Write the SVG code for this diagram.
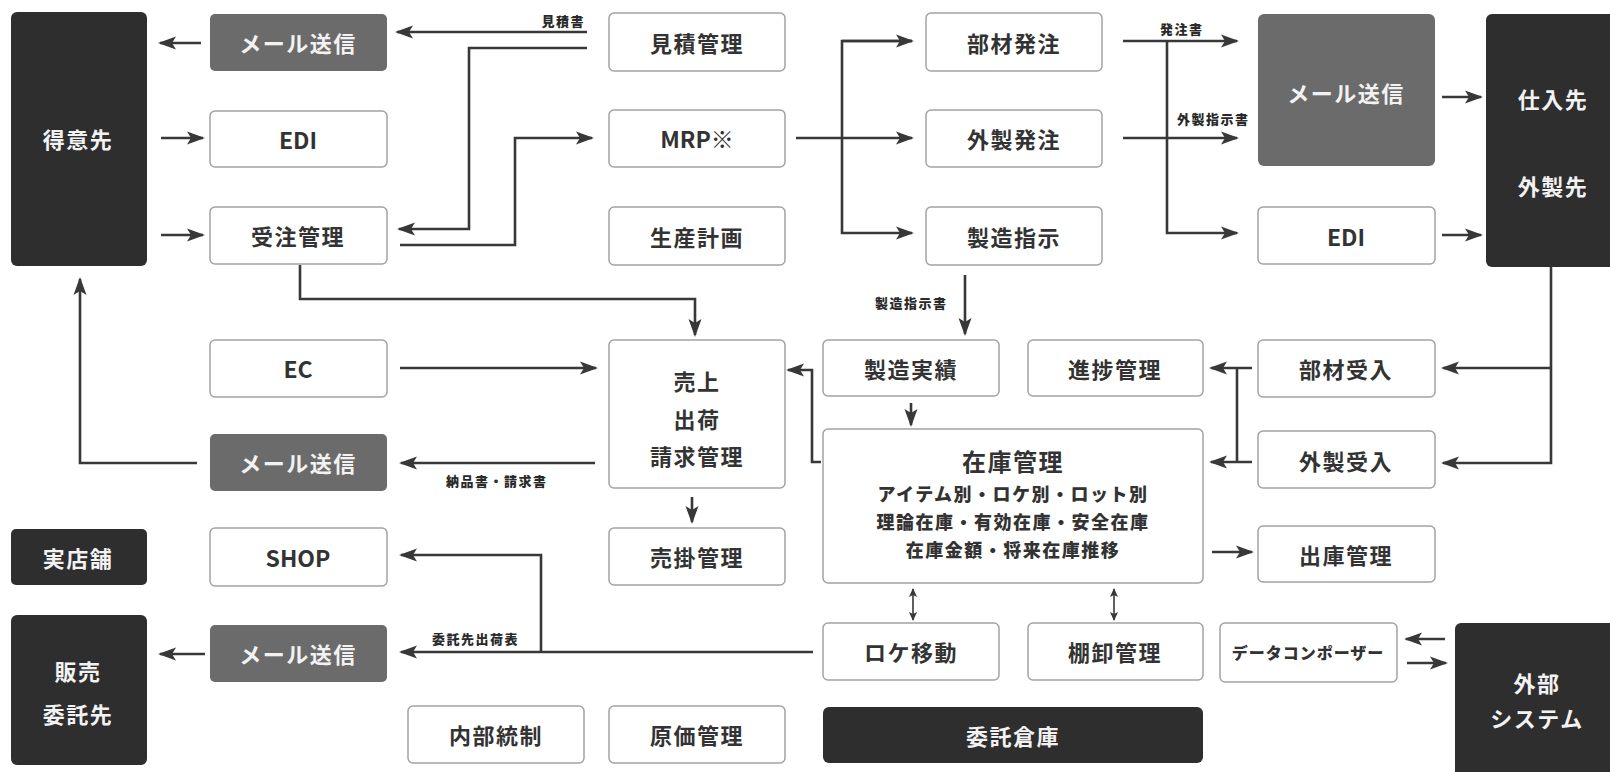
<svg xmlns="http://www.w3.org/2000/svg" width="1610" height="772" viewBox="0 0 1610 772">
<defs>
<style>
.w{fill:#fff;stroke:#a3a3a3;stroke-width:1.5}
.g{fill:#6b6b6b;stroke:none}
.d{fill:#2e2e2e;stroke:none}
text{font-family:"Noto Sans CJK JP","Noto Sans",sans-serif;font-weight:700;dominant-baseline:central;text-anchor:middle}
.t{font-size:22px;fill:#333;letter-spacing:1.5px}
.tl{font-size:23px;fill:#333}
.tw{font-size:22px;fill:#f2f2f2;letter-spacing:1.5px}
.s{font-size:18px;fill:#333;letter-spacing:1.5px;font-weight:900}
.lb{font-size:13px;fill:#2a2a2a;letter-spacing:1.5px;text-anchor:start;font-weight:900}
.c{fill:none;stroke:#383838;stroke-width:2.6}
.c2{fill:none;stroke:#383838;stroke-width:1.6}
</style>
<marker id="ah" markerUnits="userSpaceOnUse" markerWidth="18" markerHeight="14" refX="16" refY="7" orient="auto">
<path d="M0,0.5 L18,7 L0,13.5 L4,7 z" fill="#383838"/>
</marker>
<marker id="as" markerUnits="userSpaceOnUse" markerWidth="9" markerHeight="8" refX="8" refY="4" orient="auto-start-reverse">
<path d="M0,0 L9,4 L0,8 L2,4 z" fill="#383838"/>
</marker>
</defs>
<rect width="1610" height="772" fill="#fff"/>

<g id="connectors">
<path class="c" d="M587,32 H397" marker-end="url(#ah)"/>
<path class="c" d="M587,48 H469 V229 H399" marker-end="url(#ah)"/>
<path class="c" d="M400,245 H515 V138 H592" marker-end="url(#ah)"/>
<path class="c" d="M201,43 H160" marker-end="url(#ah)"/>
<path class="c" d="M161,138 H203" marker-end="url(#ah)"/>
<path class="c" d="M161,235 H203" marker-end="url(#ah)"/>
<path class="c" d="M796,138 H912" marker-end="url(#ah)"/>
<path class="c" d="M912,41 H842 V233 H912" marker-end="url(#ah)"/>
<path class="c" d="M842,41 H912" marker-end="url(#ah)"/>
<path class="c" d="M1123,41 H1237" marker-end="url(#ah)"/>
<path class="c" d="M1167,41 V233 H1237" marker-end="url(#ah)"/>
<path class="c" d="M1123,138 H1237" marker-end="url(#ah)"/>
<path class="c" d="M1442,97 H1481" marker-end="url(#ah)"/>
<path class="c" d="M1442,235 H1481" marker-end="url(#ah)"/>
<path class="c" d="M1551,267 V463 H1443" marker-end="url(#ah)"/>
<path class="c" d="M1551,368 H1443" marker-end="url(#ah)"/>
<path class="c" d="M1252,368 H1211" marker-end="url(#ah)"/>
<path class="c" d="M1252,462 H1211" marker-end="url(#ah)"/>
<path class="c" d="M1237,368 V462"/>
<path class="c" d="M1212,552 H1252" marker-end="url(#ah)"/>
<path class="c" d="M965,275 V334" marker-end="url(#ah)"/>
<path class="c" d="M911,403 V425" marker-end="url(#ah)"/>
<path class="c" d="M821,462 H812 V370 H788" marker-end="url(#ah)"/>
<path class="c" d="M300,265 V299 H695 V335" marker-end="url(#ah)"/>
<path class="c" d="M400,368 H596" marker-end="url(#ah)"/>
<path class="c" d="M595,463 H401" marker-end="url(#ah)"/>
<path class="c" d="M197,463 H80 V279" marker-end="url(#ah)"/>
<path class="c" d="M692,497 V522" marker-end="url(#ah)"/>
<path class="c2" d="M913,589 V620" marker-start="url(#as)" marker-end="url(#as)"/>
<path class="c2" d="M1114,589 V620" marker-start="url(#as)" marker-end="url(#as)"/>
<path class="c" d="M813,652 H401" marker-end="url(#ah)"/>
<path class="c" d="M541,652 V555 H401" marker-end="url(#ah)"/>
<path class="c" d="M205,654 H160" marker-end="url(#ah)"/>
<path class="c" d="M1445,639 H1406" marker-end="url(#ah)"/>
<path class="c" d="M1407,663 H1446" marker-end="url(#ah)"/>
<text class="lb" x="585" y="20" style="text-anchor:end">見積書</text>
<text class="lb" x="1160" y="28">発注書</text>
<text class="lb" x="1177" y="118">外製指示書</text>
<text class="lb" x="875" y="302">製造指示書</text>
<text class="lb" x="446" y="480">納品書・請求書</text>
<text class="lb" x="432" y="638">委託先出荷表</text>
</g>

<g id="tokuisaki"><rect class="d" x="11" y="12" width="136" height="254" rx="6"/><text class="tw" x="78" y="138">得意先</text></g>
<g id="mail1"><rect class="g" x="210" y="14" width="177" height="57" rx="5"/><text class="tw" x="298" y="42">メール送信</text></g>
<g id="edi1"><rect class="w" x="210" y="111" width="177" height="56" rx="5"/><text class="tl" x="298" y="139">EDI</text></g>
<g id="juchu"><rect class="w" x="210" y="207" width="177" height="57" rx="5"/><text class="t" x="298" y="235">受注管理</text></g>
<g id="mitsumori"><rect class="w" x="609" y="13" width="176" height="58" rx="5"/><text class="t" x="697" y="42">見積管理</text></g>
<g id="mrp"><rect class="w" x="609" y="110" width="176" height="57" rx="5"/><text class="tl" x="697" y="138">MRP※</text></g>
<g id="seisankeikaku"><rect class="w" x="609" y="207" width="176" height="58" rx="5"/><text class="t" x="697" y="236">生産計画</text></g>
<g id="buzaihacchu"><rect class="w" x="926" y="13" width="176" height="58" rx="5"/><text class="t" x="1014" y="42">部材発注</text></g>
<g id="gaiseihacchu"><rect class="w" x="926" y="110" width="176" height="57" rx="5"/><text class="t" x="1014" y="138">外製発注</text></g>
<g id="seizoshiji"><rect class="w" x="926" y="207" width="176" height="58" rx="5"/><text class="t" x="1014" y="236">製造指示</text></g>
<g id="mail2"><rect class="g" x="1258" y="14" width="177" height="152" rx="6"/><text class="tw" x="1346" y="92">メール送信</text></g>
<g id="edi2"><rect class="w" x="1258" y="207" width="177" height="57" rx="5"/><text class="tl" x="1346" y="236">EDI</text></g>
<g id="shiiresaki"><rect class="d" x="1486" y="14" width="140" height="253" rx="6"/><text class="tw" x="1553" y="98">仕入先</text><text class="tw" x="1553" y="185">外製先</text></g>
<g id="ec"><rect class="w" x="210" y="340" width="177" height="57" rx="5"/><text class="tl" x="298" y="368">EC</text></g>
<g id="uriage"><rect class="w" x="609" y="340" width="176" height="148" rx="5"/><text class="t" x="697" y="380">売上</text><text class="t" x="697" y="418">出荷</text><text class="t" x="697" y="455">請求管理</text></g>
<g id="seizojisseki"><rect class="w" x="823" y="340" width="176" height="56" rx="5"/><text class="t" x="911" y="368">製造実績</text></g>
<g id="shinchoku"><rect class="w" x="1028" y="340" width="175" height="56" rx="5"/><text class="t" x="1115" y="368">進捗管理</text></g>
<g id="buzaiukeire"><rect class="w" x="1258" y="340" width="177" height="57" rx="5"/><text class="t" x="1346" y="368">部材受入</text></g>
<g id="zaiko"><rect class="w" x="823" y="429" width="380" height="154" rx="5"/><text class="t" x="1013" y="460" style="font-size:24px">在庫管理</text><text class="s" x="1013" y="493">アイテム別・ロケ別・ロット別</text><text class="s" x="1013" y="521">理論在庫・有効在庫・安全在庫</text><text class="s" x="1013" y="549">在庫金額・将来在庫推移</text></g>
<g id="gaiseiukeire"><rect class="w" x="1258" y="431" width="177" height="57" rx="5"/><text class="t" x="1346" y="460">外製受入</text></g>
<g id="mail3"><rect class="g" x="210" y="434" width="177" height="57" rx="5"/><text class="tw" x="298" y="462">メール送信</text></g>
<g id="shukko"><rect class="w" x="1258" y="526" width="177" height="56" rx="5"/><text class="t" x="1346" y="554">出庫管理</text></g>
<g id="jitsutenpo"><rect class="d" x="11" y="529" width="136" height="56" rx="5"/><text class="tw" x="78" y="557">実店舗</text></g>
<g id="shop"><rect class="w" x="210" y="528" width="177" height="58" rx="5"/><text class="tl" x="298" y="557">SHOP</text></g>
<g id="urikake"><rect class="w" x="609" y="528" width="176" height="57" rx="5"/><text class="t" x="697" y="556">売掛管理</text></g>
<g id="hanbai"><rect class="d" x="11" y="615" width="136" height="150" rx="6"/><text class="tw" x="78" y="670">販売</text><text class="tw" x="78" y="713">委託先</text></g>
<g id="mail4"><rect class="g" x="210" y="625" width="177" height="57" rx="5"/><text class="tw" x="298" y="653">メール送信</text></g>
<g id="rokeido"><rect class="w" x="823" y="623" width="176" height="57" rx="5"/><text class="t" x="911" y="651">ロケ移動</text></g>
<g id="tanaoroshi"><rect class="w" x="1028" y="623" width="175" height="57" rx="5"/><text class="t" x="1115" y="651">棚卸管理</text></g>
<g id="datacomposer"><rect class="w" x="1220" y="623" width="177" height="59" rx="5"/><text class="t" x="1308" y="652" style="font-size:16px;letter-spacing:1px;font-weight:900">データコンポーザー</text></g>
<g id="gaibu"><rect class="d" x="1455" y="623" width="170" height="160" rx="6"/><text class="tw" x="1537" y="682">外部</text><text class="tw" x="1537" y="717">システム</text></g>
<g id="naibutosei"><rect class="w" x="408" y="706" width="176" height="57" rx="5"/><text class="t" x="496" y="734">内部統制</text></g>
<g id="genka"><rect class="w" x="609" y="706" width="176" height="57" rx="5"/><text class="t" x="697" y="734">原価管理</text></g>
<g id="itakusoko"><rect class="d" x="823" y="707" width="380" height="56" rx="6"/><text class="tw" x="1013" y="735">委託倉庫</text></g>
</svg>
